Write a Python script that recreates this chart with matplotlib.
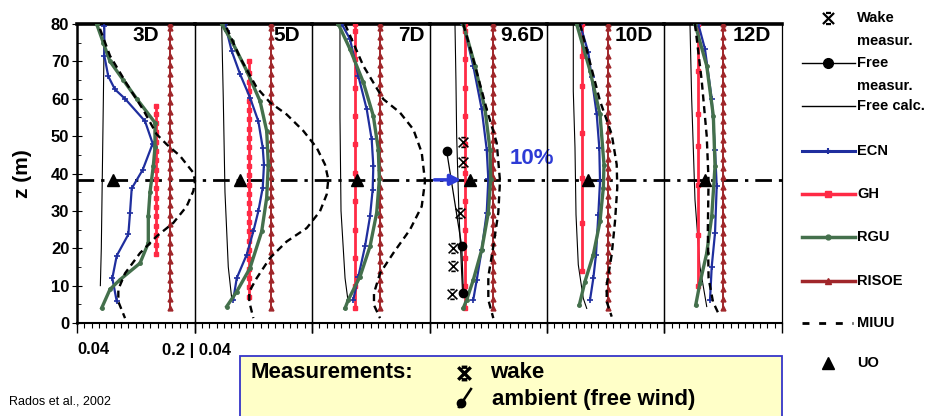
import numpy as np
import matplotlib.pyplot as plt
from matplotlib.path import Path
from matplotlib.patches import Rectangle
from matplotlib.ticker import MultipleLocator
from matplotlib.transforms import blended_transform_factory

plt.rcParams['font.family'] = ['Liberation Sans Narrow', 'Liberation Sans', 'DejaVu Sans']
plt.rcParams['font.weight'] = 'bold'

# downstream distances (one panel each)
distances = ['3D', '5D', '7D', '9.6D', '10D', '12D']
hub_z = 38.3

# Free calc. (thin black)
free_calc_x = [[0.0772, 0.0759, 0.0745, 0.0731, 0.0718],
               [0.0770, 0.0792, 0.0815, 0.0860, 0.0906],
               [0.0781, 0.0781, 0.0795, 0.0850, 0.0890],
               [0.0747, 0.0760, 0.0770, 0.0800, 0.0850],
               [0.0758, 0.0758, 0.0781, 0.0795, 0.0826, 0.0894, 0.0941],
               [0.0747, 0.0770, 0.0815, 0.0883, 0.0975]]
free_calc_z = [[80, 60, 40, 20, 10],
               [80, 60, 35, 15, 6.7],
               [80, 55, 30, 12, 6],
               [80, 65, 50, 30, 8],
               [80, 62, 47, 29, 15.6, 6.6, 3.9],
               [80, 60, 33, 15, 4.4]]

# ECN (blue)
ecn_x = [[0.0772, 0.0772, 0.0826, 0.0917, 0.1054, 0.1326, 0.1431, 0.1295, 0.1145, 0.1122, 0.1099, 0.0941, 0.0881, 0.0941],
         [0.0815, 0.0838, 0.0906, 0.1020, 0.1156, 0.1269, 0.1329, 0.1346, 0.1329, 0.1269, 0.1201, 0.1111, 0.0975, 0.0928],
         [0.0804, 0.0917, 0.1031, 0.1145, 0.1213, 0.1235, 0.1226, 0.1190, 0.1122, 0.1031, 0.0962],
         [0.0860, 0.0996, 0.1111, 0.1179, 0.1201, 0.1179, 0.1111, 0.1043, 0.0996],
         [0.0849, 0.0962, 0.1008, 0.1077, 0.1112, 0.1122, 0.1099, 0.1067, 0.1031, 0.0986],
         [0.0860, 0.0951, 0.1043, 0.1088, 0.1111, 0.1088, 0.1043, 0.1020]]
ecn_z = [[79.5, 71.5, 66, 62.5, 60, 54, 48, 41, 36, 29.5, 23.7, 18, 12, 5.8],
         [80, 78.2, 72.8, 66.6, 60.3, 54, 46.9, 42.4, 36.2, 29.9, 24.5, 18.3, 12, 6.2],
         [80, 76, 66.1, 57.2, 49.1, 42, 35.7, 28.5, 20.5, 12.4, 6.2],
         [80, 68.8, 57.2, 46.4, 38.4, 29.5, 19.6, 11.5, 6.2],
         [80, 72.4, 65.7, 55.8, 46.9, 37.9, 29, 18.3, 12, 6.2],
         [80, 73.3, 59.9, 46.4, 36.6, 24.1, 15.1, 6.2]]

# RGU (green)
rgu_x = [[0.0668, 0.0758, 0.0849, 0.1030, 0.1213, 0.1462, 0.1462, 0.1439, 0.1394, 0.1371, 0.1371, 0.1258, 0.0986, 0.0849, 0.0736],
         [0.0770, 0.0906, 0.1111, 0.1292, 0.1383, 0.1405, 0.1383, 0.1315, 0.1156, 0.0975, 0.0838],
         [0.0758, 0.0917, 0.1099, 0.1235, 0.1303, 0.1317, 0.1281, 0.1190, 0.1054, 0.0894, 0.0849],
         [0.0860, 0.1020, 0.1156, 0.1224, 0.1233, 0.1201, 0.1111, 0.0996, 0.0906, 0.0860],
         [0.0804, 0.0986, 0.1122, 0.1176, 0.1167, 0.1122, 0.1031, 0.0917, 0.0840],
         [0.0815, 0.0975, 0.1065, 0.1088, 0.1043, 0.0975, 0.0883, 0.0825]]
rgu_z = [[80, 75, 70, 65, 60, 53.6, 47, 42, 35, 28.6, 21.4, 16, 11.6, 9, 4],
         [80, 75.5, 67.5, 59.4, 51.4, 42.4, 33.5, 24.5, 14.7, 8.4, 4.4],
         [80, 73.3, 64.4, 55.4, 46.4, 38.4, 29.5, 20.5, 12.4, 6.2, 3.9],
         [80, 68.8, 57.2, 46.4, 38.4, 29.5, 19.6, 11.5, 6.2, 4],
         [80, 67.5, 55.8, 42.4, 36.2, 27.2, 18.3, 11.1, 4.8],
         [80, 68.8, 55.4, 42, 28.5, 18.7, 10.7, 4.8]]

# GH (red, constant per panel)
gh_x = [0.1472, 0.1146, 0.0986, 0.0883, 0.0872, 0.0852]
gh_z = [[18.5, 21, 23.5, 26, 28.5, 31, 33.5, 36, 38.5, 41, 43.5, 46, 48.5, 51, 53.5, 56, 58],
        [7, 9.5, 12, 14.5, 17, 19.5, 22, 24.5, 27, 29.5, 32, 34.5, 37, 39.5, 42, 44.5, 47, 49.5,
         52, 54.5, 57, 59.5, 62, 64.5, 67, 70],
        [4, 9.8, 17.4, 25, 32.6, 40.2, 47.8, 55.4, 63, 70.6, 78.2, 80],
        [4, 9.8, 17.4, 25, 32.6, 40.2, 47.8, 55.4, 63, 70.6, 78.2, 80],
        [13.8, 26.8, 38.8, 50.9, 63.4, 71.5, 80],
        [9.8, 23.6, 37, 47.3, 56, 67.5, 80]]

# RISOE (dark red, constant per panel)
risoe_x = [0.1666, 0.1442, 0.1326, 0.1269, 0.1235, 0.1201]
risoe_z = [4, 6.5, 9, 11.5, 14, 16.5, 19, 21.5, 24, 26.5, 29, 31.5, 34, 36.5, 39, 41.5, 44,
           46.5, 49, 51.5, 54, 56.5, 59, 61.5, 64, 66.5, 69, 71.5, 74, 76.5, 79, 80]

# MIUU (dashed)
miuu_x = [[0.0713, 0.0849, 0.1077, 0.1303, 0.1485, 0.1621, 0.1803, 0.1984, 0.2007, 0.1984, 0.1893,
           0.1712, 0.1485, 0.1258, 0.1054, 0.0963, 0.0963, 0.1054],
          [0.0838, 0.1020, 0.1247, 0.1428, 0.1655, 0.1882, 0.2064, 0.2177, 0.2222, 0.2200, 0.2109,
           0.1928, 0.1655, 0.1428, 0.1247, 0.1146, 0.1146, 0.1201],
          [0.0849, 0.1099, 0.1371, 0.1598, 0.1780, 0.1894, 0.1939, 0.1894, 0.1735, 0.1507, 0.1326,
           0.1244, 0.1244, 0.1326],
          [0.0860, 0.0996, 0.1179, 0.1315, 0.1360, 0.1337, 0.1269, 0.1201, 0.1201, 0.1269],
          [0.0849, 0.1122, 0.1281, 0.1349, 0.1357, 0.1326, 0.1281, 0.1213, 0.1213, 0.1281],
          [0.0815, 0.0906, 0.0975, 0.1000, 0.0990, 0.1000, 0.1060, 0.1133]]
miuu_z = [[78.7, 71.5, 64, 57, 50.5, 47.8, 44.7, 40.2, 38, 35.3, 31.2, 26.8, 23.2, 18.7, 13.3, 9, 5.7, 1.3],
          [79, 71, 63, 59, 55.8, 51.4, 46.9, 42.4, 38.4, 34.4, 29.9, 25.4, 21.8, 17.4, 12, 8.4, 5.7, 1.3],
          [80, 68.8, 59.9, 56.3, 51.8, 45.6, 37.9, 31.2, 25, 18.7, 13.3, 8, 4.8, 1.3],
          [80, 70.6, 57.2, 48.2, 38, 29.5, 20.5, 12.4, 6.2, 1.3],
          [80, 59.4, 50.5, 42.4, 36.2, 27.2, 18.3, 10.2, 5.7, 1.7],
          [80, 65, 50, 38, 25, 12, 5.7, 2.6]]

# UO (triangle at hub height)
uo_x = [0.0886, 0.1020, 0.1008, 0.0951, 0.0962, 0.0951]

# measurements at 9.6D
wake_x = [0.0860, 0.0860, 0.0815, 0.0724, 0.0724, 0.0702]
wake_z = [48.5, 43, 29.5, 20, 15.3, 7.8]
free_meas_x = [0.0634, 0.0839, 0.0860]
free_meas_z = [46, 20.5, 8]

c_ecn = '#1f2e9e'
c_gh = '#ff2a45'
c_rgu = '#44704c'
c_risoe = '#a0262a'

# wake marker: X with short caps
wake_marker = Path([(-1, -1), (1, 1), (-1, 1), (1, -1), (-0.45, 1), (0.45, 1), (-0.45, -1), (0.45, -1)],
                   [Path.MOVETO, Path.LINETO] * 4)

fig = plt.figure(figsize=(9.34, 4.16), dpi=100)
axes = fig.subplots(1, 6, sharey=True)
fig.subplots_adjust(left=77 / 934, right=782 / 934, bottom=1 - 323 / 416, top=1 - 24 / 416, wspace=0)

label_x = [0.134, 0.166, 0.175, 0.166, 0.158, 0.159]

for i, ax in enumerate(axes):
    ax.set_facecolor('none')
    ax.plot(free_calc_x[i], free_calc_z[i], color='black', lw=0.8, clip_on=False, zorder=3)
    ax.plot([gh_x[i]] * len(gh_z[i]), gh_z[i], color=c_gh, lw=2, marker='s', ms=2.8, zorder=3)
    ax.plot([risoe_x[i]] * len(risoe_z), risoe_z, color=c_risoe, lw=1.4, marker='^', ms=3.5, zorder=3)
    ax.plot(ecn_x[i], ecn_z[i], color=c_ecn, lw=1.6, marker='+', ms=4, mew=1.2, zorder=4)
    ax.plot(rgu_x[i], rgu_z[i], color=c_rgu, lw=2.4, marker='o', ms=2.5, zorder=5)
    ax.plot(miuu_x[i], miuu_z[i], color='black', lw=1.7, ls=(0, (3, 2)), clip_on=False, zorder=6)
    ax.plot(uo_x[i], hub_z, marker='^', color='black', ms=9, zorder=7)
    ax.text(label_x[i], 76.8, distances[i], fontsize=15, ha='center', va='center')

    ax.set_xlim(0.04, 0.2)
    ax.set_ylim(0, 80)
    ax.set_xticks([0.04, 0.2])
    ax.set_xticklabels([])
    ax.xaxis.set_minor_locator(MultipleLocator(0.01))
    ax.tick_params(axis='x', which='major', direction='out', length=7, width=1)
    ax.tick_params(axis='x', which='minor', direction='out', length=3.5, width=0.8)
    ax.tick_params(axis='y', which='both', left=(i == 0))
    for s in ['left', 'right']:
        ax.spines[s].set_linewidth(0.9)
    ax.spines['top'].set_linewidth(2.6)
    ax.spines['bottom'].set_linewidth(1.5)

ax0 = axes[0]
ax0.spines['left'].set_linewidth(1.8)
ax0.set_yticks(np.arange(0, 81, 10))
ax0.yaxis.set_minor_locator(MultipleLocator(5))
ax0.tick_params(axis='y', which='major', direction='inout', length=7, labelsize=12, pad=2)
ax0.tick_params(axis='y', which='minor', direction='in', length=3)
ax0.set_ylabel('z (m)', fontsize=15, fontweight='bold', labelpad=14)

# hub height line across all panels
trans = blended_transform_factory(ax0.transAxes, ax0.transData)
ax0.plot([0, 6.03], [hub_z, hub_z], transform=trans, color='black', lw=2,
         ls=(0, (6, 2.5, 1.2, 2.5)), clip_on=False, zorder=2)

# measurements at 9.6D
ax4 = axes[3]
ax4.plot(free_meas_x, free_meas_z, color='black', lw=0.9, marker='o', ms=6, zorder=6)
ax4.plot(wake_x, wake_z, ls='none', marker=wake_marker, ms=7, mew=1.2, mfc='none', color='black', zorder=6)
ax4.annotate('', xy=(0.087, hub_z), xytext=(0.043, hub_z),
             arrowprops=dict(arrowstyle='-|>', color='#2d3bd6', lw=2.5, mutation_scale=16), zorder=8)
ax4.text(0.1796, 44, '10%', color='#2d3bd6', fontsize=16, ha='center', va='center', zorder=8)

# overlay in pixel coordinates for legend, labels and box
ov = fig.add_axes([0, 0, 1, 1], zorder=10)
ov.set_xlim(0, 934)
ov.set_ylim(416, 0)
ov.axis('off')

ov.text(93, 350, '0.04', fontsize=12, ha='center', va='center')
ov.text(196, 350, '0.2 | 0.04', fontsize=12, ha='center', va='center')
ov.text(9, 401, 'Rados et al., 2002', fontsize=9, fontweight='normal', ha='left', va='center')

legend_items = [
    ('free', 63, 'Free'),
    ('calc', 106, 'Free calc.'),
    ('ecn', 151, 'ECN'),
    ('gh', 194, 'GH'),
    ('rgu', 237, 'RGU'),
    ('risoe', 281, 'RISOE'),
]
line_styles = {
    'free': dict(color='black', lw=1),
    'calc': dict(color='black', lw=1),
    'ecn': dict(color=c_ecn, lw=2.2),
    'gh': dict(color=c_gh, lw=2.5),
    'rgu': dict(color=c_rgu, lw=2.5),
    'risoe': dict(color=c_risoe, lw=2.5),
}
marker_styles = {
    'free': dict(color='black', marker='o', ms=7),
    'ecn': dict(color=c_ecn, marker='+', ms=5, mew=1.5),
    'gh': dict(color=c_gh, marker='s', ms=4),
    'rgu': dict(color=c_rgu, marker='o', ms=3.5),
    'risoe': dict(color=c_risoe, marker='^', ms=5),
}
for key, y, lab in legend_items:
    ov.plot([802, 855], [y, y], **line_styles[key])
    if key in marker_styles:
        ov.plot([828], [y], **marker_styles[key])
    ov.text(857, y, lab, fontsize=10.5, ha='left', va='center')

ov.plot([802, 853], [323, 323], color='black', lw=2, ls=(0, (2.5, 3.5)))
ov.text(857, 323, 'MIUU', fontsize=10.5, ha='left', va='center')

ov.plot([828], [18], marker=wake_marker, ms=8, mew=1.6, mfc='none', color='black')
ov.text(857, 18, 'Wake', fontsize=10.5, ha='left', va='center')
ov.text(857, 41, 'measur.', fontsize=10.5, ha='left', va='center')
ov.text(857, 86, 'measur.', fontsize=10.5, ha='left', va='center')
ov.plot([828], [363], marker='^', color='black', ms=8)
ov.text(857, 363, 'UO', fontsize=10.5, ha='left', va='center')

# measurement box
ov.add_patch(Rectangle((240, 356), 542, 70, facecolor='#ffffc8', edgecolor='#3535c8', lw=1.3, clip_on=False))
ov.text(250, 373, 'Measurements:', fontsize=16, ha='left', va='center')
ov.plot([464], [373], marker=wake_marker, ms=9, mew=2.4, mfc='none', color='black')
ov.text(490, 373, 'wake', fontsize=16, ha='left', va='center')
ov.plot([459, 471], [407, 389], color='black', lw=1.8)
ov.plot([461], [403], marker='o', color='black', ms=6)
ov.text(492, 400, 'ambient (free wind)', fontsize=16, ha='left', va='center')

plt.savefig('out.png', dpi=100)
